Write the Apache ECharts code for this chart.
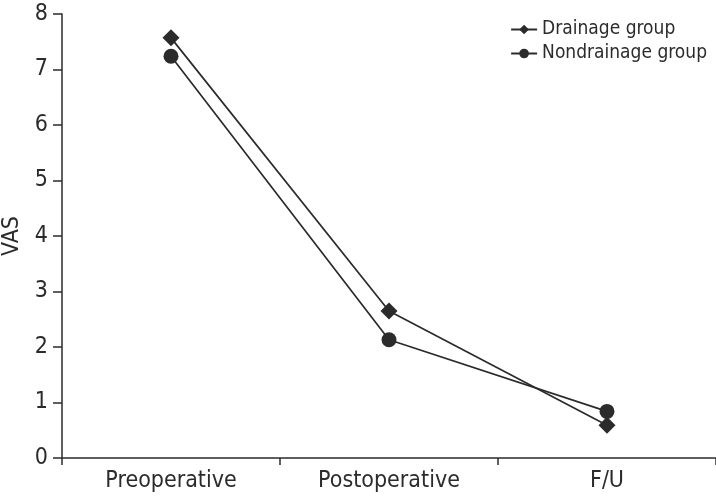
<!DOCTYPE html>
<html><head><meta charset="utf-8">
<script src="https://cdn.jsdelivr.net/npm/echarts@6/dist/echarts.min.js"></script>
<style>html,body{margin:0;padding:0;background:#fff}#c{width:716px;height:498px}</style>
</head><body><div id="c"></div>
<script>
const categories = ['Preoperative', 'Postoperative', 'F/U'];
const drainage = [7.57, 2.65, 0.59];
const nondrainage = [7.24, 2.13, 0.84];
const yTicks = [0, 1, 2, 3, 4, 5, 6, 7, 8];

const FONT = '"DejaVu Sans Condensed", "Liberation Sans Narrow", "Liberation Sans", sans-serif';
const INK = '#2b2b2b';
const chart = echarts.init(document.getElementById('c'));
chart.setOption({
  animation: false,
  backgroundColor: '#fff',
  grid: { left: 62, right: 0, top: 14, bottom: 40, containLabel: false, outerBoundsMode: 'none' },
  legend: {
    top: 15, right: 4, orient: 'vertical', itemGap: 5,
    itemWidth: 26, itemHeight: 12,
    textStyle: { fontFamily: FONT, fontSize: 19, color: INK },
    data: ['Drainage group', 'Nondrainage group']
  },
  xAxis: {
    type: 'category', data: categories, boundaryGap: true,
    axisLine: { lineStyle: { color: INK, width: 1.5 } },
    axisTick: { show: true, length: 7, lineStyle: { color: INK, width: 1.5 } },
    axisLabel: { fontFamily: FONT, fontSize: 23, color: INK, margin: 12 }
  },
  yAxis: {
    type: 'value', min: yTicks[0], max: yTicks[yTicks.length - 1], interval: 1,
    name: 'VAS', nameLocation: 'middle', nameGap: 37,
    nameTextStyle: { fontFamily: FONT, fontSize: 23, color: INK },
    axisLine: { show: true, lineStyle: { color: INK, width: 1.5 } },
    axisTick: { show: true, length: 9, lineStyle: { color: INK, width: 1.5 } },
    splitLine: { show: false },
    axisLabel: { fontFamily: FONT, fontSize: 23, color: INK, margin: 14 }
  },
  series: [
    { name: 'Drainage group', type: 'line', data: drainage,
      symbol: 'diamond', symbolSize: 17,
      lineStyle: { color: INK, width: 1.7 }, itemStyle: { color: INK } },
    { name: 'Nondrainage group', type: 'line', data: nondrainage,
      symbol: 'circle', symbolSize: 15,
      lineStyle: { color: INK, width: 1.7 }, itemStyle: { color: INK } }
  ]
});
</script></body></html>
